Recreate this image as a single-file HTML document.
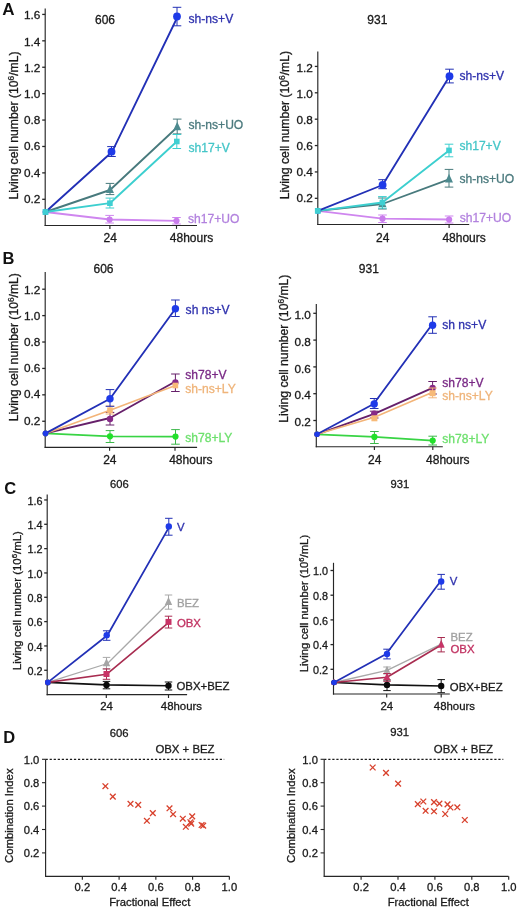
<!DOCTYPE html>
<html><head><meta charset="utf-8"><style>
html,body{margin:0;padding:0;background:#fff;}
svg{display:block;will-change:transform;}
text{font-family:"Liberation Sans", sans-serif;}
</style></head><body>
<svg width="520" height="912" viewBox="0 0 520 912" font-family='"Liberation Sans", sans-serif'>
<rect width="520" height="912" fill="#fff"/>
<text x="2.2" y="14.5" font-size="17" fill="#111" font-weight="bold">A</text>
<text x="95" y="23.8" font-size="12" fill="#1a1a1a" stroke="#1a1a1a" stroke-width="0.3">606</text>
<text x="367.3" y="23.8" font-size="12" fill="#1a1a1a" stroke="#1a1a1a" stroke-width="0.3">931</text>
<line x1="45.2" y1="8.5" x2="45.2" y2="226.07" stroke="#262626" stroke-width="1.15"/>
<line x1="44.62" y1="225.5" x2="197" y2="225.5" stroke="#262626" stroke-width="1.15"/>
<line x1="42.2" y1="199.29" x2="45.2" y2="199.29" stroke="#262626" stroke-width="1.3"/>
<text x="40.3" y="202.82" font-size="11.8" fill="#1a1a1a" stroke="#1a1a1a" stroke-width="0.3" text-anchor="end">0.2</text>
<line x1="42.2" y1="172.88" x2="45.2" y2="172.88" stroke="#262626" stroke-width="1.3"/>
<text x="40.3" y="176.62" font-size="11.8" fill="#1a1a1a" stroke="#1a1a1a" stroke-width="0.3" text-anchor="end">0.4</text>
<line x1="42.2" y1="146.47" x2="45.2" y2="146.47" stroke="#262626" stroke-width="1.3"/>
<text x="40.3" y="150.42" font-size="11.8" fill="#1a1a1a" stroke="#1a1a1a" stroke-width="0.3" text-anchor="end">0.6</text>
<line x1="42.2" y1="120.06" x2="45.2" y2="120.06" stroke="#262626" stroke-width="1.3"/>
<text x="40.3" y="124.22" font-size="11.8" fill="#1a1a1a" stroke="#1a1a1a" stroke-width="0.3" text-anchor="end">0.8</text>
<line x1="42.2" y1="93.65" x2="45.2" y2="93.65" stroke="#262626" stroke-width="1.3"/>
<text x="40.3" y="98.02" font-size="11.8" fill="#1a1a1a" stroke="#1a1a1a" stroke-width="0.3" text-anchor="end">1.0</text>
<line x1="42.2" y1="67.24" x2="45.2" y2="67.24" stroke="#262626" stroke-width="1.3"/>
<text x="40.3" y="71.82" font-size="11.8" fill="#1a1a1a" stroke="#1a1a1a" stroke-width="0.3" text-anchor="end">1.2</text>
<line x1="42.2" y1="40.83" x2="45.2" y2="40.83" stroke="#262626" stroke-width="1.3"/>
<text x="40.3" y="45.62" font-size="11.8" fill="#1a1a1a" stroke="#1a1a1a" stroke-width="0.3" text-anchor="end">1.4</text>
<line x1="42.2" y1="14.42" x2="45.2" y2="14.42" stroke="#262626" stroke-width="1.3"/>
<text x="40.3" y="19.42" font-size="11.8" fill="#1a1a1a" stroke="#1a1a1a" stroke-width="0.3" text-anchor="end">1.6</text>
<line x1="109.9" y1="225.5" x2="109.9" y2="228.9" stroke="#262626" stroke-width="1.15"/>
<text x="103.5" y="242.3" font-size="12" fill="#1a1a1a" stroke="#1a1a1a" stroke-width="0.3">24</text>
<line x1="176.5" y1="225.5" x2="176.5" y2="228.9" stroke="#262626" stroke-width="1.15"/>
<text x="169.8" y="242.3" font-size="12" fill="#1a1a1a" stroke="#1a1a1a" stroke-width="0.3">48hours</text>
<text transform="translate(17.9,125.5) rotate(-90)" font-size="12.2" fill="#1a1a1a" stroke="#1a1a1a" stroke-width="0.3" text-anchor="middle">Living cell number (10<tspan font-size="8.3" dy="-4.39">6</tspan><tspan dy="4.39">/mL)</tspan></text>
<polyline points="45.5,212 109.6,219.5 176.5,220.8" fill="none" stroke="#cf86ef" stroke-width="1.85" stroke-linejoin="round"/>
<line x1="109.6" y1="215.4" x2="109.6" y2="223" stroke="#cf86ef" stroke-width="1.0"/>
<line x1="105.3" y1="215.4" x2="113.9" y2="215.4" stroke="#cf86ef" stroke-width="1.0"/>
<line x1="105.3" y1="223" x2="113.9" y2="223" stroke="#cf86ef" stroke-width="1.0"/>
<line x1="176.5" y1="217.5" x2="176.5" y2="224" stroke="#cf86ef" stroke-width="1.0"/>
<line x1="172.2" y1="217.5" x2="180.8" y2="217.5" stroke="#cf86ef" stroke-width="1.0"/>
<line x1="172.2" y1="224" x2="180.8" y2="224" stroke="#cf86ef" stroke-width="1.0"/>
<circle cx="45.5" cy="212" r="2.8" fill="#c97cec"/>
<circle cx="109.6" cy="219.5" r="3.1" fill="#c97cec"/>
<circle cx="176.5" cy="220.8" r="3.1" fill="#c97cec"/>
<polyline points="45.5,212 110,190 177.2,127.2" fill="none" stroke="#487a7d" stroke-width="1.85" stroke-linejoin="round"/>
<line x1="110" y1="183.4" x2="110" y2="194.6" stroke="#487a7d" stroke-width="1.0"/>
<line x1="105.7" y1="183.4" x2="114.3" y2="183.4" stroke="#487a7d" stroke-width="1.0"/>
<line x1="105.7" y1="194.6" x2="114.3" y2="194.6" stroke="#487a7d" stroke-width="1.0"/>
<line x1="177.2" y1="119.1" x2="177.2" y2="133.9" stroke="#487a7d" stroke-width="1.0"/>
<line x1="172.9" y1="119.1" x2="181.5" y2="119.1" stroke="#487a7d" stroke-width="1.0"/>
<line x1="172.9" y1="133.9" x2="181.5" y2="133.9" stroke="#487a7d" stroke-width="1.0"/>
<polygon points="45.5,208.16 48.26,214.16 42.74,214.16" fill="#4d8a8f"/>
<polygon points="110,184.5 113.96,193.1 106.04,193.1" fill="#4d8a8f"/>
<polygon points="177.2,121.7 181.16,130.3 173.24,130.3" fill="#4d8a8f"/>
<polyline points="45.5,212 109.9,203.2 176.8,141.5" fill="none" stroke="#3ccfcf" stroke-width="1.85" stroke-linejoin="round"/>
<line x1="109.9" y1="198.1" x2="109.9" y2="208" stroke="#3ccfcf" stroke-width="1.0"/>
<line x1="105.6" y1="198.1" x2="114.2" y2="198.1" stroke="#3ccfcf" stroke-width="1.0"/>
<line x1="105.6" y1="208" x2="114.2" y2="208" stroke="#3ccfcf" stroke-width="1.0"/>
<line x1="176.8" y1="134.5" x2="176.8" y2="148.5" stroke="#3ccfcf" stroke-width="1.0"/>
<line x1="172.5" y1="134.5" x2="181.1" y2="134.5" stroke="#3ccfcf" stroke-width="1.0"/>
<line x1="172.5" y1="148.5" x2="181.1" y2="148.5" stroke="#3ccfcf" stroke-width="1.0"/>
<rect x="43.2" y="209.7" width="4.6" height="4.6" fill="#3fcfd2"/>
<rect x="107.1" y="200.4" width="5.6" height="5.6" fill="#3fcfd2"/>
<rect x="174" y="138.7" width="5.6" height="5.6" fill="#3fcfd2"/>
<polyline points="45.5,212 112.2,151.7 177.7,16.5" fill="none" stroke="#2230b6" stroke-width="1.85" stroke-linejoin="round"/>
<line x1="111.5" y1="146.6" x2="111.5" y2="156.5" stroke="#2230b6" stroke-width="1.0"/>
<line x1="107.2" y1="146.6" x2="115.8" y2="146.6" stroke="#2230b6" stroke-width="1.0"/>
<line x1="107.2" y1="156.5" x2="115.8" y2="156.5" stroke="#2230b6" stroke-width="1.0"/>
<line x1="177" y1="7.3" x2="177" y2="25.8" stroke="#2230b6" stroke-width="1.0"/>
<line x1="172.7" y1="7.3" x2="181.3" y2="7.3" stroke="#2230b6" stroke-width="1.0"/>
<line x1="172.7" y1="25.8" x2="181.3" y2="25.8" stroke="#2230b6" stroke-width="1.0"/>
<circle cx="45.5" cy="212" r="2.8" fill="#1e3ae8"/>
<circle cx="111.5" cy="151.7" r="3.9" fill="#1e3ae8"/>
<circle cx="177" cy="16.5" r="3.9" fill="#1e3ae8"/>
<rect x="42.6" y="209.1" width="5.8" height="5.8" fill="#3fcfd2"/>
<text x="188.5" y="22.5" font-size="12.1" fill="#3033ae" stroke="#3033ae" stroke-width="0.3">sh-ns+V</text>
<text x="188.5" y="129" font-size="12.1" fill="#4b7a7e" stroke="#4b7a7e" stroke-width="0.3">sh-ns+UO</text>
<text x="188.5" y="151.5" font-size="12.1" fill="#45c6c8" stroke="#45c6c8" stroke-width="0.3">sh17+V</text>
<text x="188" y="222.7" font-size="12.1" fill="#b282de" stroke="#b282de" stroke-width="0.3">sh17+UO</text>
<line x1="317.8" y1="51.4" x2="317.8" y2="225.07" stroke="#262626" stroke-width="1.15"/>
<line x1="317.23" y1="224.5" x2="469.2" y2="224.5" stroke="#262626" stroke-width="1.15"/>
<line x1="314.8" y1="198.32" x2="317.8" y2="198.32" stroke="#262626" stroke-width="1.3"/>
<text x="312.9" y="201.72" font-size="11.8" fill="#1a1a1a" stroke="#1a1a1a" stroke-width="0.3" text-anchor="end">0.2</text>
<line x1="314.8" y1="171.94" x2="317.8" y2="171.94" stroke="#262626" stroke-width="1.3"/>
<text x="312.9" y="175.72" font-size="11.8" fill="#1a1a1a" stroke="#1a1a1a" stroke-width="0.3" text-anchor="end">0.4</text>
<line x1="314.8" y1="145.56" x2="317.8" y2="145.56" stroke="#262626" stroke-width="1.3"/>
<text x="312.9" y="149.72" font-size="11.8" fill="#1a1a1a" stroke="#1a1a1a" stroke-width="0.3" text-anchor="end">0.6</text>
<line x1="314.8" y1="119.18" x2="317.8" y2="119.18" stroke="#262626" stroke-width="1.3"/>
<text x="312.9" y="123.72" font-size="11.8" fill="#1a1a1a" stroke="#1a1a1a" stroke-width="0.3" text-anchor="end">0.8</text>
<line x1="314.8" y1="92.8" x2="317.8" y2="92.8" stroke="#262626" stroke-width="1.3"/>
<text x="312.9" y="97.72" font-size="11.8" fill="#1a1a1a" stroke="#1a1a1a" stroke-width="0.3" text-anchor="end">1.0</text>
<line x1="314.8" y1="66.42" x2="317.8" y2="66.42" stroke="#262626" stroke-width="1.3"/>
<text x="312.9" y="71.72" font-size="11.8" fill="#1a1a1a" stroke="#1a1a1a" stroke-width="0.3" text-anchor="end">1.2</text>
<line x1="382.5" y1="224.5" x2="382.5" y2="227.9" stroke="#262626" stroke-width="1.15"/>
<text x="376.1" y="242" font-size="12" fill="#1a1a1a" stroke="#1a1a1a" stroke-width="0.3">24</text>
<line x1="449.1" y1="224.5" x2="449.1" y2="227.9" stroke="#262626" stroke-width="1.15"/>
<text x="442.4" y="242" font-size="12" fill="#1a1a1a" stroke="#1a1a1a" stroke-width="0.3">48hours</text>
<text transform="translate(289.3,125.1) rotate(-90)" font-size="12.2" fill="#1a1a1a" stroke="#1a1a1a" stroke-width="0.3" text-anchor="middle">Living cell number (10<tspan font-size="8.3" dy="-4.39">6</tspan><tspan dy="4.39">/mL)</tspan></text>
<polyline points="317.8,210.8 382.5,218.7 449.1,219.5" fill="none" stroke="#cf86ef" stroke-width="1.85" stroke-linejoin="round"/>
<line x1="382.5" y1="215" x2="382.5" y2="222.5" stroke="#cf86ef" stroke-width="1.0"/>
<line x1="378.2" y1="215" x2="386.8" y2="215" stroke="#cf86ef" stroke-width="1.0"/>
<line x1="378.2" y1="222.5" x2="386.8" y2="222.5" stroke="#cf86ef" stroke-width="1.0"/>
<line x1="449.1" y1="216" x2="449.1" y2="223" stroke="#cf86ef" stroke-width="1.0"/>
<line x1="444.8" y1="216" x2="453.4" y2="216" stroke="#cf86ef" stroke-width="1.0"/>
<line x1="444.8" y1="223" x2="453.4" y2="223" stroke="#cf86ef" stroke-width="1.0"/>
<circle cx="317.8" cy="210.8" r="2.8" fill="#c97cec"/>
<circle cx="382.5" cy="218.7" r="3.1" fill="#c97cec"/>
<circle cx="449.1" cy="219.5" r="3.1" fill="#c97cec"/>
<polyline points="317.8,210.8 382.4,204 449,179.3" fill="none" stroke="#487a7d" stroke-width="1.85" stroke-linejoin="round"/>
<line x1="382.4" y1="198" x2="382.4" y2="209" stroke="#487a7d" stroke-width="1.0"/>
<line x1="378.1" y1="198" x2="386.7" y2="198" stroke="#487a7d" stroke-width="1.0"/>
<line x1="378.1" y1="209" x2="386.7" y2="209" stroke="#487a7d" stroke-width="1.0"/>
<line x1="449" y1="169.4" x2="449" y2="187.1" stroke="#487a7d" stroke-width="1.0"/>
<line x1="444.7" y1="169.4" x2="453.3" y2="169.4" stroke="#487a7d" stroke-width="1.0"/>
<line x1="444.7" y1="187.1" x2="453.3" y2="187.1" stroke="#487a7d" stroke-width="1.0"/>
<polygon points="317.8,206.96 320.56,212.96 315.04,212.96" fill="#4d8a8f"/>
<polygon points="382.4,198.5 386.36,207.1 378.44,207.1" fill="#4d8a8f"/>
<polygon points="449,173.8 452.96,182.4 445.04,182.4" fill="#4d8a8f"/>
<polyline points="317.8,210.8 382.4,202.5 449,150.4" fill="none" stroke="#3ccfcf" stroke-width="1.85" stroke-linejoin="round"/>
<line x1="382.4" y1="196.6" x2="382.4" y2="208.1" stroke="#3ccfcf" stroke-width="1.0"/>
<line x1="378.1" y1="196.6" x2="386.7" y2="196.6" stroke="#3ccfcf" stroke-width="1.0"/>
<line x1="378.1" y1="208.1" x2="386.7" y2="208.1" stroke="#3ccfcf" stroke-width="1.0"/>
<line x1="449" y1="144.2" x2="449" y2="156.8" stroke="#3ccfcf" stroke-width="1.0"/>
<line x1="444.7" y1="144.2" x2="453.3" y2="144.2" stroke="#3ccfcf" stroke-width="1.0"/>
<line x1="444.7" y1="156.8" x2="453.3" y2="156.8" stroke="#3ccfcf" stroke-width="1.0"/>
<rect x="315.5" y="208.5" width="4.6" height="4.6" fill="#3fcfd2"/>
<rect x="379.6" y="199.7" width="5.6" height="5.6" fill="#3fcfd2"/>
<rect x="446.2" y="147.6" width="5.6" height="5.6" fill="#3fcfd2"/>
<polyline points="317.8,210.8 382.6,185 449.5,76.2" fill="none" stroke="#2230b6" stroke-width="1.85" stroke-linejoin="round"/>
<line x1="382.6" y1="179.7" x2="382.6" y2="188.7" stroke="#2230b6" stroke-width="1.0"/>
<line x1="378.3" y1="179.7" x2="386.9" y2="179.7" stroke="#2230b6" stroke-width="1.0"/>
<line x1="378.3" y1="188.7" x2="386.9" y2="188.7" stroke="#2230b6" stroke-width="1.0"/>
<line x1="449.5" y1="69.2" x2="449.5" y2="82.9" stroke="#2230b6" stroke-width="1.0"/>
<line x1="445.2" y1="69.2" x2="453.8" y2="69.2" stroke="#2230b6" stroke-width="1.0"/>
<line x1="445.2" y1="82.9" x2="453.8" y2="82.9" stroke="#2230b6" stroke-width="1.0"/>
<circle cx="317.8" cy="210.8" r="2.8" fill="#1e3ae8"/>
<circle cx="382.6" cy="185" r="3.9" fill="#1e3ae8"/>
<circle cx="449.5" cy="76.2" r="3.9" fill="#1e3ae8"/>
<rect x="314.9" y="208" width="5.8" height="5.8" fill="#3fcfd2"/>
<text x="459.4" y="80.2" font-size="12.1" fill="#3033ae" stroke="#3033ae" stroke-width="0.3">sh-ns+V</text>
<text x="459.4" y="150.4" font-size="12.1" fill="#45c6c8" stroke="#45c6c8" stroke-width="0.3">sh17+V</text>
<text x="459.4" y="182.8" font-size="12.1" fill="#4b7a7e" stroke="#4b7a7e" stroke-width="0.3">sh-ns+UO</text>
<text x="459.7" y="222.2" font-size="12.1" fill="#b282de" stroke="#b282de" stroke-width="0.3">sh17+UO</text>
<text x="2.4" y="264.3" font-size="16.5" fill="#111" font-weight="bold">B</text>
<text x="93.5" y="272.5" font-size="12" fill="#1a1a1a" stroke="#1a1a1a" stroke-width="0.3">606</text>
<text x="358.8" y="272.5" font-size="12" fill="#1a1a1a" stroke="#1a1a1a" stroke-width="0.3">931</text>
<line x1="45.2" y1="271.9" x2="45.2" y2="447.88" stroke="#262626" stroke-width="1.15"/>
<line x1="44.62" y1="447.3" x2="197.1" y2="447.3" stroke="#262626" stroke-width="1.15"/>
<line x1="42.2" y1="421.25" x2="45.2" y2="421.25" stroke="#262626" stroke-width="1.3"/>
<text x="40.3" y="424.62" font-size="11.8" fill="#1a1a1a" stroke="#1a1a1a" stroke-width="0.3" text-anchor="end">0.2</text>
<line x1="42.2" y1="394.84" x2="45.2" y2="394.84" stroke="#262626" stroke-width="1.3"/>
<text x="40.3" y="398.48" font-size="11.8" fill="#1a1a1a" stroke="#1a1a1a" stroke-width="0.3" text-anchor="end">0.4</text>
<line x1="42.2" y1="368.43" x2="45.2" y2="368.43" stroke="#262626" stroke-width="1.3"/>
<text x="40.3" y="372.34" font-size="11.8" fill="#1a1a1a" stroke="#1a1a1a" stroke-width="0.3" text-anchor="end">0.6</text>
<line x1="42.2" y1="342.02" x2="45.2" y2="342.02" stroke="#262626" stroke-width="1.3"/>
<text x="40.3" y="346.2" font-size="11.8" fill="#1a1a1a" stroke="#1a1a1a" stroke-width="0.3" text-anchor="end">0.8</text>
<line x1="42.2" y1="315.61" x2="45.2" y2="315.61" stroke="#262626" stroke-width="1.3"/>
<text x="40.3" y="320.06" font-size="11.8" fill="#1a1a1a" stroke="#1a1a1a" stroke-width="0.3" text-anchor="end">1.0</text>
<line x1="42.2" y1="289.2" x2="45.2" y2="289.2" stroke="#262626" stroke-width="1.3"/>
<text x="40.3" y="293.92" font-size="11.8" fill="#1a1a1a" stroke="#1a1a1a" stroke-width="0.3" text-anchor="end">1.2</text>
<line x1="109.6" y1="447.3" x2="109.6" y2="450.7" stroke="#262626" stroke-width="1.15"/>
<text x="103.2" y="463.8" font-size="12" fill="#1a1a1a" stroke="#1a1a1a" stroke-width="0.3">24</text>
<line x1="175" y1="447.3" x2="175" y2="450.7" stroke="#262626" stroke-width="1.15"/>
<text x="169.2" y="463.8" font-size="12" fill="#1a1a1a" stroke="#1a1a1a" stroke-width="0.3">48hours</text>
<text transform="translate(18.3,347.18) rotate(-90)" font-size="12.2" fill="#1a1a1a" stroke="#1a1a1a" stroke-width="0.3" text-anchor="middle">Living cell number (10<tspan font-size="8.3" dy="-4.39">6</tspan><tspan dy="4.39">/mL)</tspan></text>
<polyline points="45.5,433.4 110,436.3 175.5,436.6" fill="none" stroke="#38d444" stroke-width="1.85" stroke-linejoin="round"/>
<line x1="110" y1="430.6" x2="110" y2="442.5" stroke="#3cb84a" stroke-width="1.0"/>
<line x1="105.7" y1="430.6" x2="114.3" y2="430.6" stroke="#3cb84a" stroke-width="1.0"/>
<line x1="105.7" y1="442.5" x2="114.3" y2="442.5" stroke="#3cb84a" stroke-width="1.0"/>
<line x1="175.5" y1="429.6" x2="175.5" y2="444.2" stroke="#3cb84a" stroke-width="1.0"/>
<line x1="171.2" y1="429.6" x2="179.8" y2="429.6" stroke="#3cb84a" stroke-width="1.0"/>
<line x1="171.2" y1="444.2" x2="179.8" y2="444.2" stroke="#3cb84a" stroke-width="1.0"/>
<circle cx="45.5" cy="433.4" r="2.8" fill="#22e02a"/>
<circle cx="110" cy="436.3" r="3.1" fill="#22e02a"/>
<circle cx="175.5" cy="436.6" r="3.1" fill="#22e02a"/>
<polyline points="45.5,433.4 110,418 175.4,381.5" fill="none" stroke="#66206a" stroke-width="1.85" stroke-linejoin="round"/>
<line x1="110" y1="412.4" x2="110" y2="425" stroke="#66206a" stroke-width="1.0"/>
<line x1="105.7" y1="412.4" x2="114.3" y2="412.4" stroke="#66206a" stroke-width="1.0"/>
<line x1="105.7" y1="425" x2="114.3" y2="425" stroke="#66206a" stroke-width="1.0"/>
<line x1="175.4" y1="374" x2="175.4" y2="391.5" stroke="#66206a" stroke-width="1.0"/>
<line x1="171.1" y1="374" x2="179.7" y2="374" stroke="#66206a" stroke-width="1.0"/>
<line x1="171.1" y1="391.5" x2="179.7" y2="391.5" stroke="#66206a" stroke-width="1.0"/>
<circle cx="45.5" cy="433.4" r="2.8" fill="#862a88"/>
<circle cx="110" cy="419" r="3.2" fill="#862a88"/>
<circle cx="175.4" cy="382.5" r="3.2" fill="#862a88"/>
<polyline points="45.5,433.4 110,410.2 175.4,385.5" fill="none" stroke="#f3b478" stroke-width="1.6" stroke-linejoin="round"/>
<line x1="110" y1="406" x2="110" y2="414" stroke="#f3b478" stroke-width="1.0"/>
<line x1="105.7" y1="406" x2="114.3" y2="406" stroke="#f3b478" stroke-width="1.0"/>
<line x1="105.7" y1="414" x2="114.3" y2="414" stroke="#f3b478" stroke-width="1.0"/>
<rect x="43.2" y="431.1" width="4.6" height="4.6" fill="#f7ba78"/>
<rect x="107.2" y="407.4" width="5.6" height="5.6" fill="#f7ba78"/>
<rect x="172.6" y="382.7" width="5.6" height="5.6" fill="#f7ba78"/>
<polyline points="45.5,433.4 110,398.7 175.4,308.7" fill="none" stroke="#2230b6" stroke-width="1.85" stroke-linejoin="round"/>
<line x1="110" y1="389.6" x2="110" y2="406.3" stroke="#2230b6" stroke-width="1.0"/>
<line x1="105.7" y1="389.6" x2="114.3" y2="389.6" stroke="#2230b6" stroke-width="1.0"/>
<line x1="105.7" y1="406.3" x2="114.3" y2="406.3" stroke="#2230b6" stroke-width="1.0"/>
<line x1="175.4" y1="300" x2="175.4" y2="316.5" stroke="#2230b6" stroke-width="1.0"/>
<line x1="171.1" y1="300" x2="179.7" y2="300" stroke="#2230b6" stroke-width="1.0"/>
<line x1="171.1" y1="316.5" x2="179.7" y2="316.5" stroke="#2230b6" stroke-width="1.0"/>
<circle cx="45.5" cy="433.4" r="2.8" fill="#1e3ae8"/>
<circle cx="110" cy="398.7" r="3.7" fill="#1e3ae8"/>
<circle cx="175.4" cy="308.7" r="3.7" fill="#1e3ae8"/>
<text x="185.6" y="314" font-size="12.1" fill="#3033ae" stroke="#3033ae" stroke-width="0.3">sh ns+V</text>
<text x="185.2" y="379.1" font-size="12.1" fill="#7a2a86" stroke="#7a2a86" stroke-width="0.3">sh78+V</text>
<text x="185.2" y="392.5" font-size="12.1" fill="#efb47a" stroke="#efb47a" stroke-width="0.3">sh-ns+LY</text>
<text x="185.2" y="442.1" font-size="12.1" fill="#6ee06e" stroke="#6ee06e" stroke-width="0.3">sh78+LY</text>
<line x1="316.3" y1="304.1" x2="316.3" y2="447.27" stroke="#262626" stroke-width="1.15"/>
<line x1="315.73" y1="446.7" x2="442.8" y2="446.7" stroke="#262626" stroke-width="1.15"/>
<line x1="313.3" y1="420.5" x2="316.3" y2="420.5" stroke="#262626" stroke-width="1.3"/>
<text x="310.8" y="425.92" font-size="11.8" fill="#1a1a1a" stroke="#1a1a1a" stroke-width="0.3" text-anchor="end">0.2</text>
<line x1="313.3" y1="393.7" x2="316.3" y2="393.7" stroke="#262626" stroke-width="1.3"/>
<text x="310.8" y="399.22" font-size="11.8" fill="#1a1a1a" stroke="#1a1a1a" stroke-width="0.3" text-anchor="end">0.4</text>
<line x1="313.3" y1="366.9" x2="316.3" y2="366.9" stroke="#262626" stroke-width="1.3"/>
<text x="310.8" y="372.52" font-size="11.8" fill="#1a1a1a" stroke="#1a1a1a" stroke-width="0.3" text-anchor="end">0.6</text>
<line x1="313.3" y1="340.1" x2="316.3" y2="340.1" stroke="#262626" stroke-width="1.3"/>
<text x="310.8" y="345.82" font-size="11.8" fill="#1a1a1a" stroke="#1a1a1a" stroke-width="0.3" text-anchor="end">0.8</text>
<line x1="313.3" y1="313.3" x2="316.3" y2="313.3" stroke="#262626" stroke-width="1.3"/>
<text x="310.8" y="319.12" font-size="11.8" fill="#1a1a1a" stroke="#1a1a1a" stroke-width="0.3" text-anchor="end">1.0</text>
<line x1="374.4" y1="446.7" x2="374.4" y2="450.1" stroke="#262626" stroke-width="1.15"/>
<text x="368" y="463.6" font-size="12" fill="#1a1a1a" stroke="#1a1a1a" stroke-width="0.3">24</text>
<line x1="432.8" y1="446.7" x2="432.8" y2="450.1" stroke="#262626" stroke-width="1.15"/>
<text x="426.1" y="463.6" font-size="12" fill="#1a1a1a" stroke="#1a1a1a" stroke-width="0.3">48hours</text>
<text transform="translate(288.4,348.7) rotate(-90)" font-size="12.2" fill="#1a1a1a" stroke="#1a1a1a" stroke-width="0.3" text-anchor="middle">Living cell number (10<tspan font-size="8.3" dy="-4.39">6</tspan><tspan dy="4.39">/mL)</tspan></text>
<polyline points="317,434.3 374.4,436.9 432.7,440.6" fill="none" stroke="#38d444" stroke-width="1.85" stroke-linejoin="round"/>
<line x1="374.4" y1="431.5" x2="374.4" y2="443.5" stroke="#3cb84a" stroke-width="1.0"/>
<line x1="370.1" y1="431.5" x2="378.7" y2="431.5" stroke="#3cb84a" stroke-width="1.0"/>
<line x1="370.1" y1="443.5" x2="378.7" y2="443.5" stroke="#3cb84a" stroke-width="1.0"/>
<line x1="432.7" y1="436.2" x2="432.7" y2="445" stroke="#3cb84a" stroke-width="1.0"/>
<line x1="428.4" y1="436.2" x2="437" y2="436.2" stroke="#3cb84a" stroke-width="1.0"/>
<line x1="428.4" y1="445" x2="437" y2="445" stroke="#3cb84a" stroke-width="1.0"/>
<circle cx="317" cy="434.3" r="2.8" fill="#22e02a"/>
<circle cx="374.4" cy="436.9" r="3.1" fill="#22e02a"/>
<circle cx="432.7" cy="440.6" r="3.1" fill="#22e02a"/>
<polyline points="317,434.3 374.2,413.8 432.6,387.9" fill="none" stroke="#66206a" stroke-width="1.85" stroke-linejoin="round"/>
<line x1="374.2" y1="411.2" x2="374.2" y2="418" stroke="#66206a" stroke-width="1.0"/>
<line x1="369.9" y1="411.2" x2="378.5" y2="411.2" stroke="#66206a" stroke-width="1.0"/>
<line x1="369.9" y1="418" x2="378.5" y2="418" stroke="#66206a" stroke-width="1.0"/>
<line x1="432.6" y1="381.5" x2="432.6" y2="394" stroke="#66206a" stroke-width="1.0"/>
<line x1="428.3" y1="381.5" x2="436.9" y2="381.5" stroke="#66206a" stroke-width="1.0"/>
<line x1="428.3" y1="394" x2="436.9" y2="394" stroke="#66206a" stroke-width="1.0"/>
<circle cx="317" cy="434.3" r="2.8" fill="#862a88"/>
<circle cx="374.2" cy="413.8" r="3.2" fill="#862a88"/>
<circle cx="432.6" cy="387.9" r="3.2" fill="#862a88"/>
<polyline points="317,434.3 374.4,417.2 432.6,392.2" fill="none" stroke="#f3b478" stroke-width="1.6" stroke-linejoin="round"/>
<line x1="432.6" y1="388" x2="432.6" y2="397.8" stroke="#f3b478" stroke-width="1.0"/>
<line x1="428.3" y1="388" x2="436.9" y2="388" stroke="#f3b478" stroke-width="1.0"/>
<line x1="428.3" y1="397.8" x2="436.9" y2="397.8" stroke="#f3b478" stroke-width="1.0"/>
<rect x="314.7" y="432" width="4.6" height="4.6" fill="#f7ba78"/>
<rect x="371.4" y="415.3" width="6" height="6" fill="#f7ba78"/>
<rect x="429.6" y="390.2" width="6" height="6" fill="#f7ba78"/>
<polyline points="317,434.3 373.6,404 431.5,325.2" fill="none" stroke="#2230b6" stroke-width="1.85" stroke-linejoin="round"/>
<line x1="374.2" y1="398.5" x2="374.2" y2="408.5" stroke="#2230b6" stroke-width="1.0"/>
<line x1="369.9" y1="398.5" x2="378.5" y2="398.5" stroke="#2230b6" stroke-width="1.0"/>
<line x1="369.9" y1="408.5" x2="378.5" y2="408.5" stroke="#2230b6" stroke-width="1.0"/>
<line x1="432.6" y1="316.8" x2="432.6" y2="333.3" stroke="#2230b6" stroke-width="1.0"/>
<line x1="428.3" y1="316.8" x2="436.9" y2="316.8" stroke="#2230b6" stroke-width="1.0"/>
<line x1="428.3" y1="333.3" x2="436.9" y2="333.3" stroke="#2230b6" stroke-width="1.0"/>
<circle cx="317" cy="434.3" r="2.8" fill="#1e3ae8"/>
<circle cx="374.2" cy="404" r="3.7" fill="#1e3ae8"/>
<circle cx="432.6" cy="325.2" r="3.7" fill="#1e3ae8"/>
<text x="442.2" y="329" font-size="12.1" fill="#3033ae" stroke="#3033ae" stroke-width="0.3">sh ns+V</text>
<text x="442.2" y="386.6" font-size="12.1" fill="#7a2a86" stroke="#7a2a86" stroke-width="0.3">sh78+V</text>
<text x="442.2" y="399.5" font-size="12.1" fill="#efb47a" stroke="#efb47a" stroke-width="0.3">sh-ns+LY</text>
<text x="442.2" y="443.3" font-size="12.1" fill="#6ee06e" stroke="#6ee06e" stroke-width="0.3">sh78+LY</text>
<text x="4.3" y="494.2" font-size="16.5" fill="#111" font-weight="bold">C</text>
<text x="110" y="488.1" font-size="11.2" fill="#1a1a1a" stroke="#1a1a1a" stroke-width="0.3">606</text>
<text x="390.6" y="488.1" font-size="11.2" fill="#1a1a1a" stroke="#1a1a1a" stroke-width="0.3">931</text>
<line x1="47.2" y1="494.4" x2="47.2" y2="695.18" stroke="#262626" stroke-width="1.15"/>
<line x1="46.62" y1="694.6" x2="187.1" y2="694.6" stroke="#262626" stroke-width="1.15"/>
<line x1="44.2" y1="670.27" x2="47.2" y2="670.27" stroke="#262626" stroke-width="1.3"/>
<text x="42.5" y="675.02" font-size="10.8" fill="#1a1a1a" stroke="#1a1a1a" stroke-width="0.3" text-anchor="end">0.2</text>
<line x1="44.2" y1="645.94" x2="47.2" y2="645.94" stroke="#262626" stroke-width="1.3"/>
<text x="42.5" y="650.69" font-size="10.8" fill="#1a1a1a" stroke="#1a1a1a" stroke-width="0.3" text-anchor="end">0.4</text>
<line x1="44.2" y1="621.61" x2="47.2" y2="621.61" stroke="#262626" stroke-width="1.3"/>
<text x="42.5" y="626.36" font-size="10.8" fill="#1a1a1a" stroke="#1a1a1a" stroke-width="0.3" text-anchor="end">0.6</text>
<line x1="44.2" y1="597.28" x2="47.2" y2="597.28" stroke="#262626" stroke-width="1.3"/>
<text x="42.5" y="602.03" font-size="10.8" fill="#1a1a1a" stroke="#1a1a1a" stroke-width="0.3" text-anchor="end">0.8</text>
<line x1="44.2" y1="572.95" x2="47.2" y2="572.95" stroke="#262626" stroke-width="1.3"/>
<text x="42.5" y="577.7" font-size="10.8" fill="#1a1a1a" stroke="#1a1a1a" stroke-width="0.3" text-anchor="end">1.0</text>
<line x1="44.2" y1="548.62" x2="47.2" y2="548.62" stroke="#262626" stroke-width="1.3"/>
<text x="42.5" y="553.37" font-size="10.8" fill="#1a1a1a" stroke="#1a1a1a" stroke-width="0.3" text-anchor="end">1.2</text>
<line x1="44.2" y1="524.29" x2="47.2" y2="524.29" stroke="#262626" stroke-width="1.3"/>
<text x="42.5" y="529.04" font-size="10.8" fill="#1a1a1a" stroke="#1a1a1a" stroke-width="0.3" text-anchor="end">1.4</text>
<line x1="44.2" y1="499.96" x2="47.2" y2="499.96" stroke="#262626" stroke-width="1.3"/>
<text x="42.5" y="504.71" font-size="10.8" fill="#1a1a1a" stroke="#1a1a1a" stroke-width="0.3" text-anchor="end">1.6</text>
<line x1="106.3" y1="694.6" x2="106.3" y2="698" stroke="#262626" stroke-width="1.15"/>
<text x="100.2" y="710" font-size="11.4" fill="#1a1a1a" stroke="#1a1a1a" stroke-width="0.3">24</text>
<line x1="168.5" y1="694.6" x2="168.5" y2="698" stroke="#262626" stroke-width="1.15"/>
<text x="160.8" y="710" font-size="11.4" fill="#1a1a1a" stroke="#1a1a1a" stroke-width="0.3">48hours</text>
<text transform="translate(20.8,600.65) rotate(-90)" font-size="11.45" fill="#1a1a1a" stroke="#1a1a1a" stroke-width="0.3" text-anchor="middle">Living cell number (10<tspan font-size="7.79" dy="-4.12">6</tspan><tspan dy="4.12">/mL)</tspan></text>
<polyline points="47.8,682.4 106.5,684.9 168.5,685.8" fill="none" stroke="#111111" stroke-width="1.6" stroke-linejoin="round"/>
<line x1="106.5" y1="681.4" x2="106.5" y2="688.8" stroke="#111111" stroke-width="1.0"/>
<line x1="102.75" y1="681.4" x2="110.25" y2="681.4" stroke="#111111" stroke-width="1.0"/>
<line x1="102.75" y1="688.8" x2="110.25" y2="688.8" stroke="#111111" stroke-width="1.0"/>
<line x1="168.5" y1="682" x2="168.5" y2="690" stroke="#111111" stroke-width="1.0"/>
<line x1="164.75" y1="682" x2="172.25" y2="682" stroke="#111111" stroke-width="1.0"/>
<line x1="164.75" y1="690" x2="172.25" y2="690" stroke="#111111" stroke-width="1.0"/>
<circle cx="47.8" cy="682.4" r="2.8" fill="#0a0a0a"/>
<circle cx="106.5" cy="684.9" r="3.2" fill="#0a0a0a"/>
<circle cx="168.5" cy="685.8" r="3.2" fill="#0a0a0a"/>
<polyline points="47.8,682.4 107.5,663.5 169.3,602" fill="none" stroke="#a9a9a9" stroke-width="1.3" stroke-linejoin="round"/>
<line x1="106.5" y1="657.4" x2="106.5" y2="669" stroke="#a9a9a9" stroke-width="1.0"/>
<line x1="102.75" y1="657.4" x2="110.25" y2="657.4" stroke="#a9a9a9" stroke-width="1.0"/>
<line x1="102.75" y1="669" x2="110.25" y2="669" stroke="#a9a9a9" stroke-width="1.0"/>
<line x1="168.5" y1="595" x2="168.5" y2="609.2" stroke="#a9a9a9" stroke-width="1.0"/>
<line x1="164.75" y1="595" x2="172.25" y2="595" stroke="#a9a9a9" stroke-width="1.0"/>
<line x1="164.75" y1="609.2" x2="172.25" y2="609.2" stroke="#a9a9a9" stroke-width="1.0"/>
<polygon points="47.8,678.56 50.56,684.56 45.04,684.56" fill="#a5a5a5"/>
<polygon points="106.5,658.18 110.18,666.18 102.82,666.18" fill="#a5a5a5"/>
<polygon points="168.5,596.88 172.18,604.88 164.82,604.88" fill="#a5a5a5"/>
<polyline points="47.8,682.4 106.5,674.3 168.9,622.3" fill="none" stroke="#a82c50" stroke-width="1.6" stroke-linejoin="round"/>
<line x1="106.5" y1="668.9" x2="106.5" y2="679.3" stroke="#a82c50" stroke-width="1.0"/>
<line x1="102.75" y1="668.9" x2="110.25" y2="668.9" stroke="#a82c50" stroke-width="1.0"/>
<line x1="102.75" y1="679.3" x2="110.25" y2="679.3" stroke="#a82c50" stroke-width="1.0"/>
<line x1="168.5" y1="616.2" x2="168.5" y2="628" stroke="#a82c50" stroke-width="1.0"/>
<line x1="164.75" y1="616.2" x2="172.25" y2="616.2" stroke="#a82c50" stroke-width="1.0"/>
<line x1="164.75" y1="628" x2="172.25" y2="628" stroke="#a82c50" stroke-width="1.0"/>
<rect x="45.5" y="680.1" width="4.6" height="4.6" fill="#c83366"/>
<rect x="103.5" y="671" width="6" height="6" fill="#c83366"/>
<rect x="165.5" y="618.9" width="6" height="6" fill="#c83366"/>
<polyline points="47.8,682.4 107.4,635.2 169.5,526.4" fill="none" stroke="#2230b6" stroke-width="1.75" stroke-linejoin="round"/>
<line x1="106.7" y1="630.8" x2="106.7" y2="640.3" stroke="#2230b6" stroke-width="1.0"/>
<line x1="102.95" y1="630.8" x2="110.45" y2="630.8" stroke="#2230b6" stroke-width="1.0"/>
<line x1="102.95" y1="640.3" x2="110.45" y2="640.3" stroke="#2230b6" stroke-width="1.0"/>
<line x1="168.8" y1="518.3" x2="168.8" y2="535.2" stroke="#2230b6" stroke-width="1.0"/>
<line x1="165.05" y1="518.3" x2="172.55" y2="518.3" stroke="#2230b6" stroke-width="1.0"/>
<line x1="165.05" y1="535.2" x2="172.55" y2="535.2" stroke="#2230b6" stroke-width="1.0"/>
<circle cx="47.8" cy="682.4" r="2.8" fill="#1e3ae8"/>
<circle cx="106.7" cy="635.2" r="3.2" fill="#1e3ae8"/>
<circle cx="168.8" cy="526.4" r="3.2" fill="#1e3ae8"/>
<text x="176.9" y="530.8" font-size="11.4" fill="#3033ae" stroke="#3033ae" stroke-width="0.3">V</text>
<text x="176.9" y="606.5" font-size="11.4" fill="#a0a0a0" stroke="#a0a0a0" stroke-width="0.3">BEZ</text>
<text x="176.9" y="626.7" font-size="11.4" fill="#c03060" stroke="#c03060" stroke-width="0.3">OBX</text>
<text x="176.5" y="690.2" font-size="11.4" fill="#1a1a1a" stroke="#1a1a1a" stroke-width="0.3">OBX+BEZ</text>
<line x1="333.5" y1="562.8" x2="333.5" y2="694.58" stroke="#262626" stroke-width="1.15"/>
<line x1="332.93" y1="694" x2="449.8" y2="694" stroke="#262626" stroke-width="1.15"/>
<line x1="330.5" y1="669.3" x2="333.5" y2="669.3" stroke="#262626" stroke-width="1.3"/>
<text x="328.1" y="674.05" font-size="10.8" fill="#1a1a1a" stroke="#1a1a1a" stroke-width="0.3" text-anchor="end">0.2</text>
<line x1="330.5" y1="644.6" x2="333.5" y2="644.6" stroke="#262626" stroke-width="1.3"/>
<text x="328.1" y="649.35" font-size="10.8" fill="#1a1a1a" stroke="#1a1a1a" stroke-width="0.3" text-anchor="end">0.4</text>
<line x1="330.5" y1="619.9" x2="333.5" y2="619.9" stroke="#262626" stroke-width="1.3"/>
<text x="328.1" y="624.65" font-size="10.8" fill="#1a1a1a" stroke="#1a1a1a" stroke-width="0.3" text-anchor="end">0.6</text>
<line x1="330.5" y1="595.2" x2="333.5" y2="595.2" stroke="#262626" stroke-width="1.3"/>
<text x="328.1" y="599.95" font-size="10.8" fill="#1a1a1a" stroke="#1a1a1a" stroke-width="0.3" text-anchor="end">0.8</text>
<line x1="330.5" y1="570.5" x2="333.5" y2="570.5" stroke="#262626" stroke-width="1.3"/>
<text x="328.1" y="575.25" font-size="10.8" fill="#1a1a1a" stroke="#1a1a1a" stroke-width="0.3" text-anchor="end">1.0</text>
<line x1="386.7" y1="694" x2="386.7" y2="697.4" stroke="#262626" stroke-width="1.15"/>
<text x="380.4" y="710" font-size="11.4" fill="#1a1a1a" stroke="#1a1a1a" stroke-width="0.3">24</text>
<line x1="441.2" y1="694" x2="441.2" y2="697.4" stroke="#262626" stroke-width="1.15"/>
<text x="433.8" y="710" font-size="11.4" fill="#1a1a1a" stroke="#1a1a1a" stroke-width="0.3">48hours</text>
<text transform="translate(308.4,603.55) rotate(-90)" font-size="11.3" fill="#1a1a1a" stroke="#1a1a1a" stroke-width="0.3" text-anchor="middle">Living cell number (10<tspan font-size="7.68" dy="-4.07">6</tspan><tspan dy="4.07">/mL)</tspan></text>
<polyline points="334,682.5 387,684.9 441.2,686" fill="none" stroke="#111111" stroke-width="1.6" stroke-linejoin="round"/>
<line x1="387" y1="680" x2="387" y2="690.6" stroke="#111111" stroke-width="1.0"/>
<line x1="383.25" y1="680" x2="390.75" y2="680" stroke="#111111" stroke-width="1.0"/>
<line x1="383.25" y1="690.6" x2="390.75" y2="690.6" stroke="#111111" stroke-width="1.0"/>
<line x1="441.2" y1="679.6" x2="441.2" y2="692.7" stroke="#111111" stroke-width="1.0"/>
<line x1="437.45" y1="679.6" x2="444.95" y2="679.6" stroke="#111111" stroke-width="1.0"/>
<line x1="437.45" y1="692.7" x2="444.95" y2="692.7" stroke="#111111" stroke-width="1.0"/>
<circle cx="334" cy="682.5" r="2.8" fill="#0a0a0a"/>
<circle cx="387" cy="684.9" r="3.2" fill="#0a0a0a"/>
<circle cx="441.2" cy="686" r="3.2" fill="#0a0a0a"/>
<polyline points="334,682.5 387,670.3 441.2,644.2" fill="none" stroke="#a9a9a9" stroke-width="1.3" stroke-linejoin="round"/>
<line x1="387" y1="667" x2="387" y2="674" stroke="#a9a9a9" stroke-width="1.0"/>
<line x1="383.25" y1="667" x2="390.75" y2="667" stroke="#a9a9a9" stroke-width="1.0"/>
<line x1="383.25" y1="674" x2="390.75" y2="674" stroke="#a9a9a9" stroke-width="1.0"/>
<polygon points="334,678.66 336.76,684.66 331.24,684.66" fill="#a5a5a5"/>
<polygon points="387,665.82 390.22,672.82 383.78,672.82" fill="#a5a5a5"/>
<polygon points="441.2,639.72 444.42,646.72 437.98,646.72" fill="#a5a5a5"/>
<polyline points="334,682.5 387,677.3 441.2,645" fill="none" stroke="#a82c50" stroke-width="1.6" stroke-linejoin="round"/>
<line x1="387" y1="673.5" x2="387" y2="681.3" stroke="#a82c50" stroke-width="1.0"/>
<line x1="383.25" y1="673.5" x2="390.75" y2="673.5" stroke="#a82c50" stroke-width="1.0"/>
<line x1="383.25" y1="681.3" x2="390.75" y2="681.3" stroke="#a82c50" stroke-width="1.0"/>
<line x1="441.2" y1="637.5" x2="441.2" y2="651.9" stroke="#a82c50" stroke-width="1.0"/>
<line x1="437.45" y1="637.5" x2="444.95" y2="637.5" stroke="#a82c50" stroke-width="1.0"/>
<line x1="437.45" y1="651.9" x2="444.95" y2="651.9" stroke="#a82c50" stroke-width="1.0"/>
<polygon points="334,678.66 336.76,684.66 331.24,684.66" fill="#c83366"/>
<polygon points="387,672.5 390.45,680 383.55,680" fill="#c83366"/>
<polygon points="441.2,640.2 444.65,647.7 437.75,647.7" fill="#c83366"/>
<polyline points="334,682.5 386.2,654 440.4,581.5" fill="none" stroke="#2230b6" stroke-width="1.75" stroke-linejoin="round"/>
<line x1="387" y1="649.2" x2="387" y2="658.9" stroke="#2230b6" stroke-width="1.0"/>
<line x1="383.25" y1="649.2" x2="390.75" y2="649.2" stroke="#2230b6" stroke-width="1.0"/>
<line x1="383.25" y1="658.9" x2="390.75" y2="658.9" stroke="#2230b6" stroke-width="1.0"/>
<line x1="441.2" y1="574.4" x2="441.2" y2="589.2" stroke="#2230b6" stroke-width="1.0"/>
<line x1="437.45" y1="574.4" x2="444.95" y2="574.4" stroke="#2230b6" stroke-width="1.0"/>
<line x1="437.45" y1="589.2" x2="444.95" y2="589.2" stroke="#2230b6" stroke-width="1.0"/>
<circle cx="334" cy="682.5" r="2.8" fill="#1e3ae8"/>
<circle cx="387" cy="654" r="3.2" fill="#1e3ae8"/>
<circle cx="441.2" cy="581.5" r="3.2" fill="#1e3ae8"/>
<text x="449.8" y="585.4" font-size="11.4" fill="#3033ae" stroke="#3033ae" stroke-width="0.3">V</text>
<text x="450.5" y="640.6" font-size="11.4" fill="#a0a0a0" stroke="#a0a0a0" stroke-width="0.3">BEZ</text>
<text x="450.5" y="652.5" font-size="11.4" fill="#c03060" stroke="#c03060" stroke-width="0.3">OBX</text>
<text x="449.8" y="690.8" font-size="11.4" fill="#1a1a1a" stroke="#1a1a1a" stroke-width="0.3">OBX+BEZ</text>
<text x="3.2" y="742.5" font-size="16.5" fill="#111" font-weight="bold">D</text>
<text x="109.8" y="736.9" font-size="11.3" fill="#1a1a1a" stroke="#1a1a1a" stroke-width="0.3">606</text>
<text x="390.2" y="736.2" font-size="11.3" fill="#1a1a1a" stroke="#1a1a1a" stroke-width="0.3">931</text>
<line x1="45.6" y1="759.4" x2="45.6" y2="876.8" stroke="#262626" stroke-width="1.15"/>
<line x1="45.1" y1="876.3" x2="229.4" y2="876.3" stroke="#262626" stroke-width="1.15"/>
<line x1="42" y1="852.9" x2="45.6" y2="852.9" stroke="#262626" stroke-width="1.1"/>
<text x="39.3" y="857.16" font-size="11.2" fill="#1a1a1a" stroke="#1a1a1a" stroke-width="0.3" text-anchor="end">0.2</text>
<line x1="42" y1="829.5" x2="45.6" y2="829.5" stroke="#262626" stroke-width="1.1"/>
<text x="39.3" y="833.76" font-size="11.2" fill="#1a1a1a" stroke="#1a1a1a" stroke-width="0.3" text-anchor="end">0.4</text>
<line x1="42" y1="806.1" x2="45.6" y2="806.1" stroke="#262626" stroke-width="1.1"/>
<text x="39.3" y="810.36" font-size="11.2" fill="#1a1a1a" stroke="#1a1a1a" stroke-width="0.3" text-anchor="end">0.6</text>
<line x1="42" y1="782.7" x2="45.6" y2="782.7" stroke="#262626" stroke-width="1.1"/>
<text x="39.3" y="786.96" font-size="11.2" fill="#1a1a1a" stroke="#1a1a1a" stroke-width="0.3" text-anchor="end">0.8</text>
<line x1="42" y1="759.3" x2="45.6" y2="759.3" stroke="#262626" stroke-width="1.1"/>
<text x="39.3" y="763.56" font-size="11.2" fill="#1a1a1a" stroke="#1a1a1a" stroke-width="0.3" text-anchor="end">1.0</text>
<line x1="82.35" y1="876.3" x2="82.35" y2="879.7" stroke="#262626" stroke-width="1.15"/>
<text x="82.35" y="891" font-size="11.2" fill="#1a1a1a" stroke="#1a1a1a" stroke-width="0.3" text-anchor="middle">0.2</text>
<line x1="119.1" y1="876.3" x2="119.1" y2="879.7" stroke="#262626" stroke-width="1.15"/>
<text x="119.1" y="891" font-size="11.2" fill="#1a1a1a" stroke="#1a1a1a" stroke-width="0.3" text-anchor="middle">0.4</text>
<line x1="155.85" y1="876.3" x2="155.85" y2="879.7" stroke="#262626" stroke-width="1.15"/>
<text x="155.85" y="891" font-size="11.2" fill="#1a1a1a" stroke="#1a1a1a" stroke-width="0.3" text-anchor="middle">0.6</text>
<line x1="192.6" y1="876.3" x2="192.6" y2="879.7" stroke="#262626" stroke-width="1.15"/>
<text x="192.6" y="891" font-size="11.2" fill="#1a1a1a" stroke="#1a1a1a" stroke-width="0.3" text-anchor="middle">0.8</text>
<line x1="229.35" y1="876.3" x2="229.35" y2="879.7" stroke="#262626" stroke-width="1.15"/>
<text x="229.35" y="891" font-size="11.2" fill="#1a1a1a" stroke="#1a1a1a" stroke-width="0.3" text-anchor="middle">1.0</text>
<line x1="45.6" y1="759.4" x2="224.2" y2="759.4" stroke="#1a1a1a" stroke-width="1.15" stroke-dasharray="2.2 1.85"/>
<text x="109.2" y="905.8" font-size="11.25" fill="#1a1a1a" stroke="#1a1a1a" stroke-width="0.3">Fractional Effect</text>
<text transform="translate(13.2,815.7) rotate(-90)" font-size="11.35" fill="#1a1a1a" stroke="#1a1a1a" stroke-width="0.3" text-anchor="middle">Combination Index</text>
<line x1="102.55" y1="783.35" x2="108.25" y2="789.05" stroke="#d8402c" stroke-width="1.3"/>
<line x1="102.55" y1="789.05" x2="108.25" y2="783.35" stroke="#d8402c" stroke-width="1.3"/>
<line x1="109.95" y1="793.75" x2="115.65" y2="799.45" stroke="#d8402c" stroke-width="1.3"/>
<line x1="109.95" y1="799.45" x2="115.65" y2="793.75" stroke="#d8402c" stroke-width="1.3"/>
<line x1="127.65" y1="800.95" x2="133.35" y2="806.65" stroke="#d8402c" stroke-width="1.3"/>
<line x1="127.65" y1="806.65" x2="133.35" y2="800.95" stroke="#d8402c" stroke-width="1.3"/>
<line x1="135.35" y1="802.05" x2="141.05" y2="807.75" stroke="#d8402c" stroke-width="1.3"/>
<line x1="135.35" y1="807.75" x2="141.05" y2="802.05" stroke="#d8402c" stroke-width="1.3"/>
<line x1="149.95" y1="810.25" x2="155.65" y2="815.95" stroke="#d8402c" stroke-width="1.3"/>
<line x1="149.95" y1="815.95" x2="155.65" y2="810.25" stroke="#d8402c" stroke-width="1.3"/>
<line x1="144.05" y1="817.95" x2="149.75" y2="823.65" stroke="#d8402c" stroke-width="1.3"/>
<line x1="144.05" y1="823.65" x2="149.75" y2="817.95" stroke="#d8402c" stroke-width="1.3"/>
<line x1="166.65" y1="805.45" x2="172.35" y2="811.15" stroke="#d8402c" stroke-width="1.3"/>
<line x1="166.65" y1="811.15" x2="172.35" y2="805.45" stroke="#d8402c" stroke-width="1.3"/>
<line x1="170.25" y1="811.35" x2="175.95" y2="817.05" stroke="#d8402c" stroke-width="1.3"/>
<line x1="170.25" y1="817.05" x2="175.95" y2="811.35" stroke="#d8402c" stroke-width="1.3"/>
<line x1="179.95" y1="815.85" x2="185.65" y2="821.55" stroke="#d8402c" stroke-width="1.3"/>
<line x1="179.95" y1="821.55" x2="185.65" y2="815.85" stroke="#d8402c" stroke-width="1.3"/>
<line x1="189.35" y1="813.55" x2="195.05" y2="819.25" stroke="#d8402c" stroke-width="1.3"/>
<line x1="189.35" y1="819.25" x2="195.05" y2="813.55" stroke="#d8402c" stroke-width="1.3"/>
<line x1="187.55" y1="819.35" x2="193.25" y2="825.05" stroke="#d8402c" stroke-width="1.3"/>
<line x1="187.55" y1="825.05" x2="193.25" y2="819.35" stroke="#d8402c" stroke-width="1.3"/>
<line x1="188.35" y1="820.75" x2="194.05" y2="826.45" stroke="#d8402c" stroke-width="1.3"/>
<line x1="188.35" y1="826.45" x2="194.05" y2="820.75" stroke="#d8402c" stroke-width="1.3"/>
<line x1="182.95" y1="823.95" x2="188.65" y2="829.65" stroke="#d8402c" stroke-width="1.3"/>
<line x1="182.95" y1="829.65" x2="188.65" y2="823.95" stroke="#d8402c" stroke-width="1.3"/>
<line x1="198.75" y1="822.15" x2="204.45" y2="827.85" stroke="#d8402c" stroke-width="1.3"/>
<line x1="198.75" y1="827.85" x2="204.45" y2="822.15" stroke="#d8402c" stroke-width="1.3"/>
<line x1="200.35" y1="822.75" x2="206.05" y2="828.45" stroke="#d8402c" stroke-width="1.3"/>
<line x1="200.35" y1="828.45" x2="206.05" y2="822.75" stroke="#d8402c" stroke-width="1.3"/>
<text x="155.4" y="753.1" font-size="11.4" fill="#1a1a1a" stroke="#1a1a1a" stroke-width="0.3">OBX + BEZ</text>
<line x1="324.2" y1="759.4" x2="324.2" y2="876.8" stroke="#262626" stroke-width="1.15"/>
<line x1="323.7" y1="876.3" x2="508.5" y2="876.3" stroke="#262626" stroke-width="1.15"/>
<line x1="320.6" y1="852.9" x2="324.2" y2="852.9" stroke="#262626" stroke-width="1.1"/>
<text x="317.9" y="857.16" font-size="11.2" fill="#1a1a1a" stroke="#1a1a1a" stroke-width="0.3" text-anchor="end">0.2</text>
<line x1="320.6" y1="829.5" x2="324.2" y2="829.5" stroke="#262626" stroke-width="1.1"/>
<text x="317.9" y="833.76" font-size="11.2" fill="#1a1a1a" stroke="#1a1a1a" stroke-width="0.3" text-anchor="end">0.4</text>
<line x1="320.6" y1="806.1" x2="324.2" y2="806.1" stroke="#262626" stroke-width="1.1"/>
<text x="317.9" y="810.36" font-size="11.2" fill="#1a1a1a" stroke="#1a1a1a" stroke-width="0.3" text-anchor="end">0.6</text>
<line x1="320.6" y1="782.7" x2="324.2" y2="782.7" stroke="#262626" stroke-width="1.1"/>
<text x="317.9" y="786.96" font-size="11.2" fill="#1a1a1a" stroke="#1a1a1a" stroke-width="0.3" text-anchor="end">0.8</text>
<line x1="320.6" y1="759.3" x2="324.2" y2="759.3" stroke="#262626" stroke-width="1.1"/>
<text x="317.9" y="763.56" font-size="11.2" fill="#1a1a1a" stroke="#1a1a1a" stroke-width="0.3" text-anchor="end">1.0</text>
<line x1="361.1" y1="876.3" x2="361.1" y2="879.7" stroke="#262626" stroke-width="1.15"/>
<text x="361.1" y="891" font-size="11.2" fill="#1a1a1a" stroke="#1a1a1a" stroke-width="0.3" text-anchor="middle">0.2</text>
<line x1="398" y1="876.3" x2="398" y2="879.7" stroke="#262626" stroke-width="1.15"/>
<text x="398" y="891" font-size="11.2" fill="#1a1a1a" stroke="#1a1a1a" stroke-width="0.3" text-anchor="middle">0.4</text>
<line x1="434.9" y1="876.3" x2="434.9" y2="879.7" stroke="#262626" stroke-width="1.15"/>
<text x="434.9" y="891" font-size="11.2" fill="#1a1a1a" stroke="#1a1a1a" stroke-width="0.3" text-anchor="middle">0.6</text>
<line x1="471.8" y1="876.3" x2="471.8" y2="879.7" stroke="#262626" stroke-width="1.15"/>
<text x="471.8" y="891" font-size="11.2" fill="#1a1a1a" stroke="#1a1a1a" stroke-width="0.3" text-anchor="middle">0.8</text>
<line x1="508.7" y1="876.3" x2="508.7" y2="879.7" stroke="#262626" stroke-width="1.15"/>
<text x="508.7" y="891" font-size="11.2" fill="#1a1a1a" stroke="#1a1a1a" stroke-width="0.3" text-anchor="middle">1.0</text>
<line x1="324.2" y1="759.4" x2="503.3" y2="759.4" stroke="#1a1a1a" stroke-width="1.15" stroke-dasharray="2.2 1.85"/>
<text x="387.7" y="905.8" font-size="11.25" fill="#1a1a1a" stroke="#1a1a1a" stroke-width="0.3">Fractional Effect</text>
<text transform="translate(295.4,815.7) rotate(-90)" font-size="11.35" fill="#1a1a1a" stroke="#1a1a1a" stroke-width="0.3" text-anchor="middle">Combination Index</text>
<line x1="369.85" y1="764.65" x2="375.55" y2="770.35" stroke="#d8402c" stroke-width="1.3"/>
<line x1="369.85" y1="770.35" x2="375.55" y2="764.65" stroke="#d8402c" stroke-width="1.3"/>
<line x1="383.15" y1="770.05" x2="388.85" y2="775.75" stroke="#d8402c" stroke-width="1.3"/>
<line x1="383.15" y1="775.75" x2="388.85" y2="770.05" stroke="#d8402c" stroke-width="1.3"/>
<line x1="395.25" y1="780.75" x2="400.95" y2="786.45" stroke="#d8402c" stroke-width="1.3"/>
<line x1="395.25" y1="786.45" x2="400.95" y2="780.75" stroke="#d8402c" stroke-width="1.3"/>
<line x1="414.95" y1="801.25" x2="420.65" y2="806.95" stroke="#d8402c" stroke-width="1.3"/>
<line x1="414.95" y1="806.95" x2="420.65" y2="801.25" stroke="#d8402c" stroke-width="1.3"/>
<line x1="420.45" y1="798.65" x2="426.15" y2="804.35" stroke="#d8402c" stroke-width="1.3"/>
<line x1="420.45" y1="804.35" x2="426.15" y2="798.65" stroke="#d8402c" stroke-width="1.3"/>
<line x1="422.75" y1="807.95" x2="428.45" y2="813.65" stroke="#d8402c" stroke-width="1.3"/>
<line x1="422.75" y1="813.65" x2="428.45" y2="807.95" stroke="#d8402c" stroke-width="1.3"/>
<line x1="431.15" y1="799.25" x2="436.85" y2="804.95" stroke="#d8402c" stroke-width="1.3"/>
<line x1="431.15" y1="804.95" x2="436.85" y2="799.25" stroke="#d8402c" stroke-width="1.3"/>
<line x1="436.55" y1="800.75" x2="442.25" y2="806.45" stroke="#d8402c" stroke-width="1.3"/>
<line x1="436.55" y1="806.45" x2="442.25" y2="800.75" stroke="#d8402c" stroke-width="1.3"/>
<line x1="431.15" y1="808.45" x2="436.85" y2="814.15" stroke="#d8402c" stroke-width="1.3"/>
<line x1="431.15" y1="814.15" x2="436.85" y2="808.45" stroke="#d8402c" stroke-width="1.3"/>
<line x1="444.65" y1="801.55" x2="450.35" y2="807.25" stroke="#d8402c" stroke-width="1.3"/>
<line x1="444.65" y1="807.25" x2="450.35" y2="801.55" stroke="#d8402c" stroke-width="1.3"/>
<line x1="447.55" y1="804.65" x2="453.25" y2="810.35" stroke="#d8402c" stroke-width="1.3"/>
<line x1="447.55" y1="810.35" x2="453.25" y2="804.65" stroke="#d8402c" stroke-width="1.3"/>
<line x1="454.45" y1="804.45" x2="460.15" y2="810.15" stroke="#d8402c" stroke-width="1.3"/>
<line x1="454.45" y1="810.15" x2="460.15" y2="804.45" stroke="#d8402c" stroke-width="1.3"/>
<line x1="442.35" y1="811.15" x2="448.05" y2="816.85" stroke="#d8402c" stroke-width="1.3"/>
<line x1="442.35" y1="816.85" x2="448.05" y2="811.15" stroke="#d8402c" stroke-width="1.3"/>
<line x1="461.95" y1="817.15" x2="467.65" y2="822.85" stroke="#d8402c" stroke-width="1.3"/>
<line x1="461.95" y1="822.85" x2="467.65" y2="817.15" stroke="#d8402c" stroke-width="1.3"/>
<text x="433.8" y="752.9" font-size="11.4" fill="#1a1a1a" stroke="#1a1a1a" stroke-width="0.3">OBX + BEZ</text>
</svg>
</body></html>
